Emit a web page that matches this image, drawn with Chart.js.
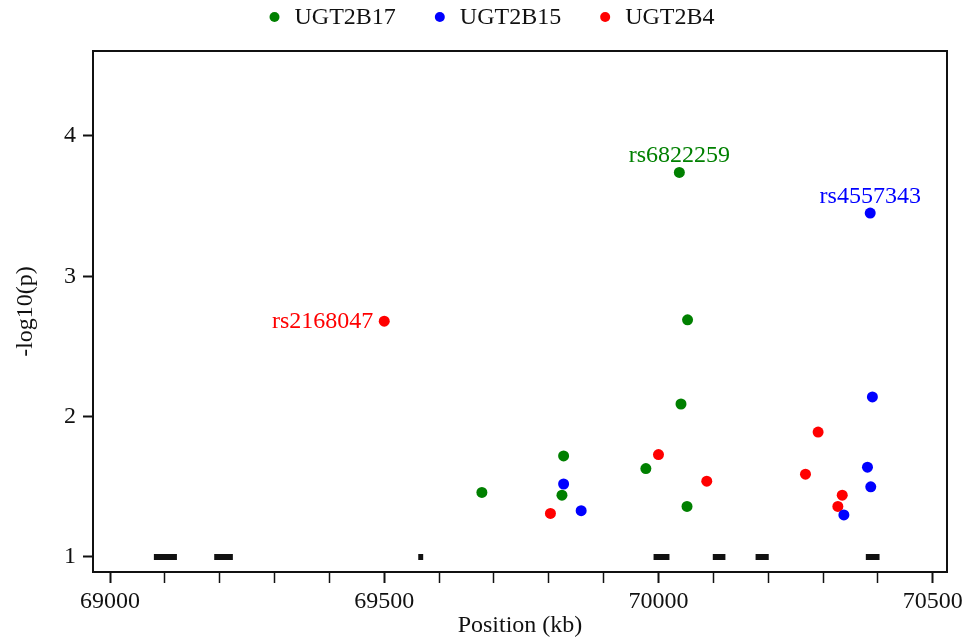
<!DOCTYPE html>
<html>
<head>
<meta charset="utf-8">
<script src="https://cdn.jsdelivr.net/npm/chart.js@4.4.0/dist/chart.umd.min.js"></script>
<style>
  body { margin: 0; background: #fff; }
  #wrap { width: 968px; height: 643px; }
</style>
</head>
<body>
<div id="wrap"><canvas id="chart" width="968" height="643"></canvas></div>
<script>
// positions in kb, values are -log10(p)
const ugt2b17Pos = [70038, 70053, 70041, 69827, 69977, 69678, 69824, 70052];
const ugt2b17P   = [3.74, 2.69, 2.09, 1.72, 1.63, 1.46, 1.44, 1.36];
const ugt2b15Pos = [70386, 70390, 70381, 70387, 70338, 69827, 69859];
const ugt2b15P   = [3.45, 2.14, 1.64, 1.50, 1.30, 1.52, 1.33];
const ugt2b4Pos  = [69500, 70000, 69803, 70088, 70291, 70268, 70335, 70327];
const ugt2b4P    = [2.68, 1.73, 1.31, 1.54, 1.89, 1.59, 1.44, 1.36];

// gene blocks along the baseline (kb)
const geneStart = [69080, 69190, 69562, 69991, 70099, 70177, 70378];
const geneEnd   = [69122, 69224, 69571, 70020, 70122, 70201, 70403];
const geneLevel = 1;

// labelled top snp of each gene: dataset, point, name, side
const topSnps = [
    [0, 0, 'rs6822259', 'top'],
    [1, 0, 'rs4557343', 'top'],
    [2, 0, 'rs2168047', 'left']
];

const xMajor = [69000, 69500, 70000, 70500];
const yTicks = [1, 2, 3, 4];

const FONT = '"Liberation Serif", "Times New Roman", serif';
const INK = '#111';

function toPoints(xs, ys) {
    return xs.map((x, i) => ({ x: x, y: ys[i] }));
}

function genePoints() {
    let pts = [];
    geneStart.forEach((s, i) => {
        pts.push({ x: s, y: geneLevel });
        pts.push({ x: geneEnd[i], y: geneLevel });
        pts.push({ x: geneEnd[i], y: null });
    });
    return pts;
}

// frame round the plot area
const frame = {
    id: 'frame',
    afterDatasetsDraw(chart) {
        const a = chart.chartArea, ctx = chart.ctx;
        ctx.save();
        ctx.strokeStyle = INK;
        ctx.lineWidth = 2;
        ctx.strokeRect(a.left, a.top, a.right - a.left, a.bottom - a.top);
        ctx.restore();
    }
};

// names of the top snps, placed from the scales
const snpLabels = {
    id: 'snpLabels',
    afterDatasetsDraw(chart) {
        const ctx = chart.ctx;
        const xs = chart.scales.x, ys = chart.scales.y;
        ctx.save();
        ctx.font = '24px ' + FONT;
        topSnps.forEach(([ds, idx, name, side]) => {
            const set = chart.data.datasets[ds];
            const pt = set.data[idx];
            const px = xs.getPixelForValue(pt.x);
            const py = ys.getPixelForValue(pt.y);
            ctx.fillStyle = set.backgroundColor;
            if (side === 'left') {
                ctx.textAlign = 'right';
                ctx.textBaseline = 'middle';
                ctx.fillText(name, px - 11, py + 1);
            } else {
                ctx.textAlign = 'center';
                ctx.textBaseline = 'alphabetic';
                ctx.fillText(name, px, py - 10);
            }
        });
        ctx.restore();
    }
};

// legend row above the plot
const topLegend = {
    id: 'topLegend',
    afterDraw(chart) {
        const ctx = chart.ctx;
        const items = chart.data.datasets.filter(d => !d.isGene);
        ctx.save();
        ctx.font = '24px ' + FONT;
        const widths = items.map(d => 20 + ctx.measureText(d.label).width);
        const total = widths.reduce((a, b) => a + b, 0) + 44 * (items.length - 1) + 5;
        let x = chart.width / 2 + 8 - total / 2 + 5;
        const y = 17;
        items.forEach((d, i) => {
            ctx.fillStyle = d.backgroundColor;
            ctx.beginPath();
            ctx.arc(x, y, 5, 0, Math.PI * 2);
            ctx.fill();
            ctx.fillStyle = INK;
            ctx.textAlign = 'left';
            ctx.textBaseline = 'middle';
            ctx.fillText(d.label, x + 20, y + 1);
            x += widths[i] + 44;
        });
        ctx.restore();
    }
};

const ctx = document.getElementById('chart').getContext('2d');
const mychart = new Chart(ctx, {
    type: 'scatter',
    data: {
        datasets: [{
            label: 'UGT2B17',
            data: toPoints(ugt2b17Pos, ugt2b17P),
            backgroundColor: '#008000',
            borderWidth: 0,
            pointRadius: 5.5
        }, {
            label: 'UGT2B15',
            data: toPoints(ugt2b15Pos, ugt2b15P),
            backgroundColor: '#0000ff',
            borderWidth: 0,
            pointRadius: 5.5
        }, {
            label: 'UGT2B4',
            data: toPoints(ugt2b4Pos, ugt2b4P),
            backgroundColor: '#ff0000',
            borderWidth: 0,
            pointRadius: 5.5
        }, {
            type: 'line',
            isGene: true,
            label: 'genes',
            data: genePoints(),
            borderColor: '#111',
            borderWidth: 6,
            borderCapStyle: 'butt',
            pointRadius: 0,
            spanGaps: false,
            showLine: true
        }]
    },
    options: {
        responsive: false,
        animation: false,
        devicePixelRatio: 1,
        events: [],
        layout: { padding: { top: 51, right: 21, bottom: 0, left: 0 } },
        plugins: {
            legend: { display: false },
            tooltip: { enabled: false }
        },
        scales: {
            x: {
                type: 'linear',
                position: 'bottom',
                min: 68969,
                max: 70526,
                afterFit: s => { s.height = 71; },
                border: { display: false },
                grid: {
                    drawOnChartArea: false,
                    drawTicks: true,
                    tickLength: 11,
                    tickColor: INK,
                    tickWidth: c => (xMajor.includes(c.tick.value) ? 2 : 1.5)
                },
                ticks: {
                    stepSize: 100,
                    includeBounds: false,
                    autoSkip: false,
                    maxTicksLimit: 20,
                    maxRotation: 0,
                    padding: 4,
                    color: INK,
                    font: { family: FONT, size: 24 },
                    callback: v => (xMajor.includes(v) ? String(v) : '')
                },
                title: {
                    display: true,
                    text: 'Position (kb)',
                    color: INK,
                    font: { family: FONT, size: 24 },
                    padding: { top: 0, bottom: 3 }
                }
            },
            y: {
                type: 'linear',
                min: 0.893,
                max: 4.605,
                afterFit: s => { s.width = 93; },
                border: { display: false },
                grid: {
                    drawOnChartArea: false,
                    drawTicks: true,
                    tickLength: 10,
                    tickColor: INK,
                    tickWidth: 2
                },
                ticks: {
                    stepSize: 1,
                    includeBounds: false,
                    padding: 7,
                    color: INK,
                    font: { family: FONT, size: 24 },
                    callback: v => (yTicks.includes(v) ? String(v) : '')
                },
                title: {
                    display: true,
                    text: '-log10(p)',
                    color: INK,
                    font: { family: FONT, size: 24 },
                    padding: { top: 11, bottom: 0 }
                }
            }
        }
    },
    plugins: [frame, snpLabels, topLegend]
});
</script>
</body>
</html>
